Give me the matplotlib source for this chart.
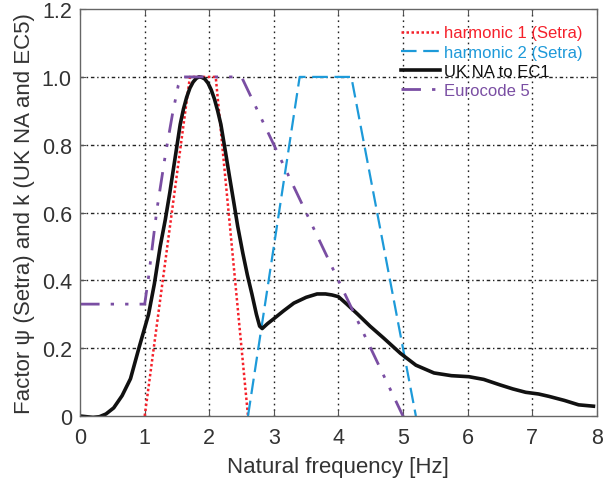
import matplotlib
matplotlib.use("Agg")
import matplotlib.pyplot as plt

# ---- data ----
h1_f = [1.0, 1.7, 2.1, 2.6]
h1_v = [0.0, 1.0, 1.0, 0.0]

h2_f = [2.6, 3.4, 4.2, 5.2]
h2_v = [0.0, 1.0, 1.0, 0.0]

uk_f = [0.0, 0.1, 0.2, 0.3, 0.4, 0.52, 0.65, 0.78, 0.91, 1.06, 1.15, 1.24, 1.32, 1.39,
        1.47, 1.55, 1.60, 1.65, 1.70, 1.75, 1.80, 1.84, 1.88, 1.93, 1.98, 2.03, 2.08,
        2.13, 2.18, 2.25, 2.31, 2.38, 2.44, 2.52, 2.59, 2.66, 2.73, 2.78, 2.82, 2.90,
        3.0, 3.15, 3.31, 3.50, 3.67, 3.80, 3.90, 4.0, 4.13, 4.30, 4.49, 4.70, 4.96,
        5.20, 5.48, 5.75, 6.02, 6.25, 6.50, 6.70, 6.90, 7.10, 7.26, 7.50, 7.72, 7.95]
uk_v = [0.0, -0.002, -0.004, -0.002, 0.006, 0.024, 0.06, 0.11, 0.20, 0.30, 0.39, 0.50,
        0.58, 0.66, 0.76, 0.86, 0.905, 0.94, 0.967, 0.985, 0.996, 1.0, 0.999, 0.994,
        0.982, 0.962, 0.935, 0.90, 0.86, 0.78, 0.71, 0.63, 0.56, 0.48, 0.416, 0.36,
        0.30, 0.265, 0.258, 0.272, 0.287, 0.31, 0.333, 0.35, 0.36, 0.36, 0.357, 0.352,
        0.33, 0.30, 0.265, 0.23, 0.185, 0.15, 0.127, 0.119, 0.116, 0.108, 0.092, 0.08,
        0.07, 0.065, 0.058, 0.046, 0.033, 0.029]

ec5_f = [0.0, 1.0, 1.06, 1.19, 1.32, 1.43, 1.52, 1.58, 2.5, 5.0]
ec5_v = [0.33, 0.33, 0.41, 0.61, 0.77, 0.89, 0.975, 1.0, 1.0, 0.0]

labels = ["harmonic 1 (Setra)", "harmonic 2 (Setra)", "UK NA to EC1", "Eurocode 5"]
xticks = [0, 1, 2, 3, 4, 5, 6, 7, 8]
yticks = [0, 0.2, 0.4, 0.6, 0.8, 1.0, 1.2]
yticklabels = ["0", "0.2", "0.4", "0.6", "0.8", "1.0", "1.2"]

plt.rcParams['font.family'] = ['Liberation Sans', 'DejaVu Sans']

RED = "#f5212a"
BLUE = "#1d9ad9"
PURPLE = "#7a4ea3"
TXT = "#333333"

fig = plt.figure(figsize=(6.07, 4.81), dpi=100)
ax = fig.add_axes([0.132, 0.133, 0.851, 0.846])

ax.plot(h1_f, h1_v, color=RED, lw=1.8, linestyle=(0, (1, 1)), label=labels[0])
ax.plot(h2_f, h2_v, color=BLUE, lw=1.6, linestyle=(0, (7, 3)), label=labels[1])
ax.plot(uk_f, uk_v, color="#111111", lw=2.6, solid_joinstyle="round", label=labels[2])
ax.plot(ec5_f, ec5_v, color=PURPLE, lw=2.0, linestyle=(0, (7, 4, 1.2, 4, 1.2, 4)), label=labels[3])

ax.set_xlim(0, 8)
ax.set_ylim(0, 1.2)
ax.set_xticks(xticks)
ax.set_yticks(yticks)
ax.set_yticklabels(yticklabels)

for x in xticks[1:-1]:
    ax.axvline(x, color="#222222", lw=1.0, linestyle=(0, (1.2, 2.8)), zorder=0)
for y in yticks[1:-1]:
    ax.axhline(y, color="#222222", lw=1.0, linestyle=(0, (2.5, 2.0, 1.0, 2.0)), zorder=0)

ax.tick_params(direction="in", length=4, width=0.8, colors="#555555", labelcolor=TXT,
               labelsize=15.5, top=True, right=True)
ax.tick_params(axis="x", pad=8)
ax.tick_params(axis="y", pad=6)
for s in ax.spines.values():
    s.set_color("#666666")
    s.set_linewidth(1.0)

ax.set_xlabel("Natural frequency [Hz]", fontsize=16, color=TXT, labelpad=6)
ax.set_ylabel("Factor \u03c8 (Setra) and k (UK NA and EC5)", fontsize=16, color=TXT, labelpad=5)

leg = ax.legend(loc="upper left", bbox_to_anchor=(0.622, 0.96), frameon=False,
                fontsize=12, handlelength=2.3, handletextpad=0.25, labelspacing=0.25,
                borderpad=0, borderaxespad=0)
for t, c in zip(leg.get_texts(), [RED, BLUE, "#111111", PURPLE]):
    t.set_color(c)

fig.savefig("out.png", dpi=100)
